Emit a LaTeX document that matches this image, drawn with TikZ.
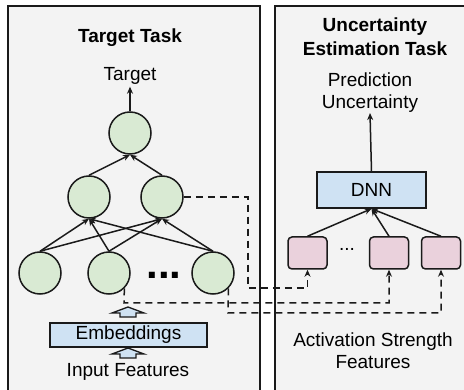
\documentclass[tikz,border=0pt]{standalone}
\usepackage{fontspec}
\setmainfont{Liberation Sans}
\usetikzlibrary{arrows.meta}
\definecolor{panelfill}{HTML}{F3F3F3}
\definecolor{edgecol}{HTML}{1A1A1A}
\definecolor{neuron}{HTML}{D9EAD3}
\definecolor{bluebox}{HTML}{CFE2F3}
\definecolor{pinkbox}{HTML}{EAD1DC}
\tikzset{
  panel/.style={draw=edgecol, fill=panelfill, line width=1.6pt},
  neuronnode/.style={circle, draw=edgecol, fill=neuron, line width=1.5pt, minimum size=42pt, inner sep=0pt},
  layerbox/.style={draw=edgecol, fill=bluebox, line width=1.5pt, inner sep=0pt},
  featbox/.style={draw=edgecol, fill=pinkbox, line width=1.5pt, rounded corners=4pt, minimum width=39pt, minimum height=32pt, inner sep=0pt},
  label/.style={font=\fontsize{19}{22}\selectfont, align=center, inner sep=0pt},
  title/.style={font=\fontsize{19}{24}\selectfont\bfseries, align=center, inner sep=0pt},
  link/.style={draw=edgecol, line width=1.5pt, -{Stealth[length=7pt,width=6pt]}},
  tap/.style={draw=edgecol, line width=1.5pt, dash pattern=on 7pt off 5pt},
  tapend/.style={tap, -{Stealth[length=7pt,width=6pt]}},
  hollowup/.pic={\draw[fill=bluebox, draw=edgecol, line width=1.3pt, line join=miter]
     (0,0) -- (16,6) -- (8,6) -- (8,10) -- (-8,10) -- (-8,6) -- (-16,6) -- cycle;}
}
\begin{document}
\begin{tikzpicture}[x=1pt, y=-1pt]
\useasboundingbox (0,0) rectangle (464,390);
\fill[white] (0,0) rectangle (464,390);

% panels
\path[panel] (8,6) rectangle (260,398);
\path[panel] (275,6) rectangle (475,398);

% target task
\node[title] (ttitle) at (130,38) {Target Task};
\node[label, inner sep=2pt] (tgt) at (130,76) {Target};

\node[neuronnode] (c0) at (130,133) {};
\node[neuronnode] (c1) at (89,197) {};
\node[neuronnode] (c2) at (162,197) {};
\node[neuronnode] (b1) at (40,273) {};
\node[neuronnode] (b2) at (109,273) {};
\node[neuronnode] (b3) at (213,273) {};
\node[font=\fontsize{42}{42}\selectfont\bfseries, inner sep=0pt] (dots) at (164,275) {...};

\draw[link] (c0.north) -- (tgt.south);
\draw[link] (c1.north) -- (c0.south);
\draw[link] (c2.north) -- (c0.south);
\foreach \b in {b1,b2,b3}{
  \draw[link] (\b.north) -- (c1.south);
  \draw[link] (\b.north) -- (c2.south);
}

\node[layerbox, minimum width=157pt, minimum height=24pt, label] (emb) at (128.5,335) {Embeddings};
\node[label] (inp) at (128,372) {Input Features};
\pic at (128,307) {hollowup};
\pic at (128,348) {hollowup};

% uncertainty estimation task
\node[title] (utitle) at (375,37) {Uncertainty\\Estimation Task};
\node[label] (pred) at (370,93) {Prediction\\Uncertainty};
\node[layerbox, minimum width=109pt, minimum height=36pt, label] (dnn) at (371.5,190) {DNN};

\node[featbox] (p1) at (307.5,253) {};
\node[featbox] (p2) at (389,253) {};
\node[featbox] (p3) at (441,253) {};
\node[label] (fdots) at (347,249) {...};

\draw[link] (dnn.north) -- (pred.south);
\draw[link] (p1.north) -- (dnn.south);
\draw[link] (p2.north) -- (dnn.south);
\draw[link] (p3.north) -- (dnn.south);

\node[label] (act) at (373,351) {Activation Strength\\Features};

% activation taps
\coordinate (j1) at (248,288);
\coordinate (j2) at (124,303);
\coordinate (j3) at (228,313);
\draw[tapend] (c2.east) -| (j1) -| (p1.south);
\draw[tapend] (b2.-45) -- (j2) -| (p2.south);
\draw[tapend] (b3.-45) -- (j3) -| (p3.south);
\end{tikzpicture}
\end{document}
